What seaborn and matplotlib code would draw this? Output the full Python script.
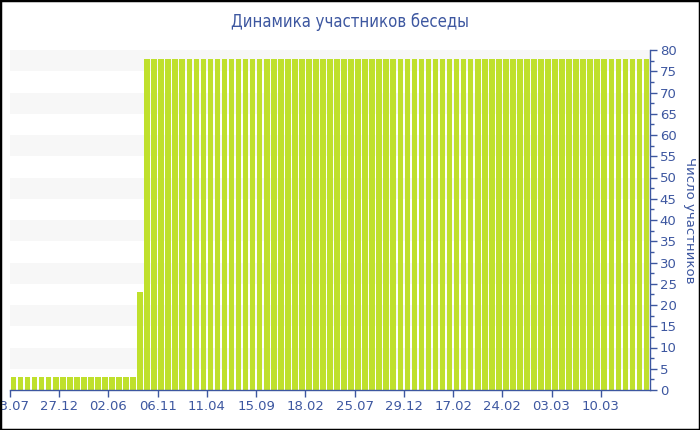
import matplotlib
matplotlib.use("Agg")
import matplotlib.pyplot as plt
import seaborn as sns
import numpy as np
import pandas as pd
from matplotlib.patches import Rectangle

# ---- data ----
low_values = [3] * 18
mid_values = [23]
high_values = [78] * 72
values = low_values + mid_values + high_values
tick_labels = ["23.07", "27.12", "02.06", "06.11", "11.04", "15.09", "18.02",
               "25.07", "29.12", "17.02", "24.02", "03.03", "10.03"]
title = "Динамика участников беседы"
ylabel = "Число участников"

sns.set_theme(style="white")
plt.rcParams['font.family'] = ['DejaVu Sans']

text_color = "#3d57a0"
axis_color = "#3d57a0"
bar_color = "#bfe02c"
band_color = "#f7f7f7"

df = pd.DataFrame({"idx": np.arange(len(values)), "val": values})

fig = plt.figure(figsize=(7, 4.3), dpi=100)
ax = fig.add_axes([10 / 700, 40 / 430, 640 / 700, 340 / 430])

# alternating bands
for lo in range(5, 80, 10):
    ax.axhspan(lo, lo + 5, color=band_color, zorder=0, lw=0)

sns.barplot(data=df, x="idx", y="val", color=bar_color, saturation=1,
            width=0.8, ax=ax, zorder=2, edgecolor="none")

ax.set_xlim(-0.5, len(values) - 0.5)
ax.set_ylim(0, 80)

# x ticks at category boundaries
xt = [-0.5 + 7 * i for i in range(len(tick_labels))]
ax.set_xticks(xt)
ax.set_xticklabels(tick_labels, fontsize=9.5, color=text_color)
ax.set_xlabel("")

# y axis on the right
ax.yaxis.tick_right()
ax.yaxis.set_label_position("right")
ax.set_yticks(np.arange(0, 81, 5))
ax.set_yticks(np.arange(2.5, 80, 5), minor=True)
ax.set_yticklabels([str(v) for v in range(0, 81, 5)], fontsize=9.5, color=text_color)
ax.set_ylabel(ylabel, rotation=270, labelpad=14, fontsize=9.5, color=text_color)

ax.tick_params(axis="x", which="major", bottom=True, length=5, width=1,
               color=axis_color, pad=2)
ax.tick_params(axis="y", which="major", right=True, left=False, length=5,
               width=1, color=axis_color, pad=2)
ax.tick_params(axis="y", which="minor", right=True, left=False, length=3,
               width=1, color=axis_color)

for side in ["top", "left"]:
    ax.spines[side].set_visible(False)
ax.spines["bottom"].set_color(axis_color)
ax.spines["right"].set_color(axis_color)
ax.spines["bottom"].set_linewidth(1)
ax.spines["right"].set_linewidth(1)
ax.set_facecolor("white")

fig.text(0.5, 1 - 22 / 430, title, ha="center", va="center", fontsize=12,
         color=text_color, family=['DejaVu Sans'], fontstretch='condensed')

# outer frame
fig.patches.append(Rectangle((0, 0), 1, 1, transform=fig.transFigure,
                             fill=False, edgecolor="black", linewidth=2.5))

fig.savefig("out.png", dpi=100)
